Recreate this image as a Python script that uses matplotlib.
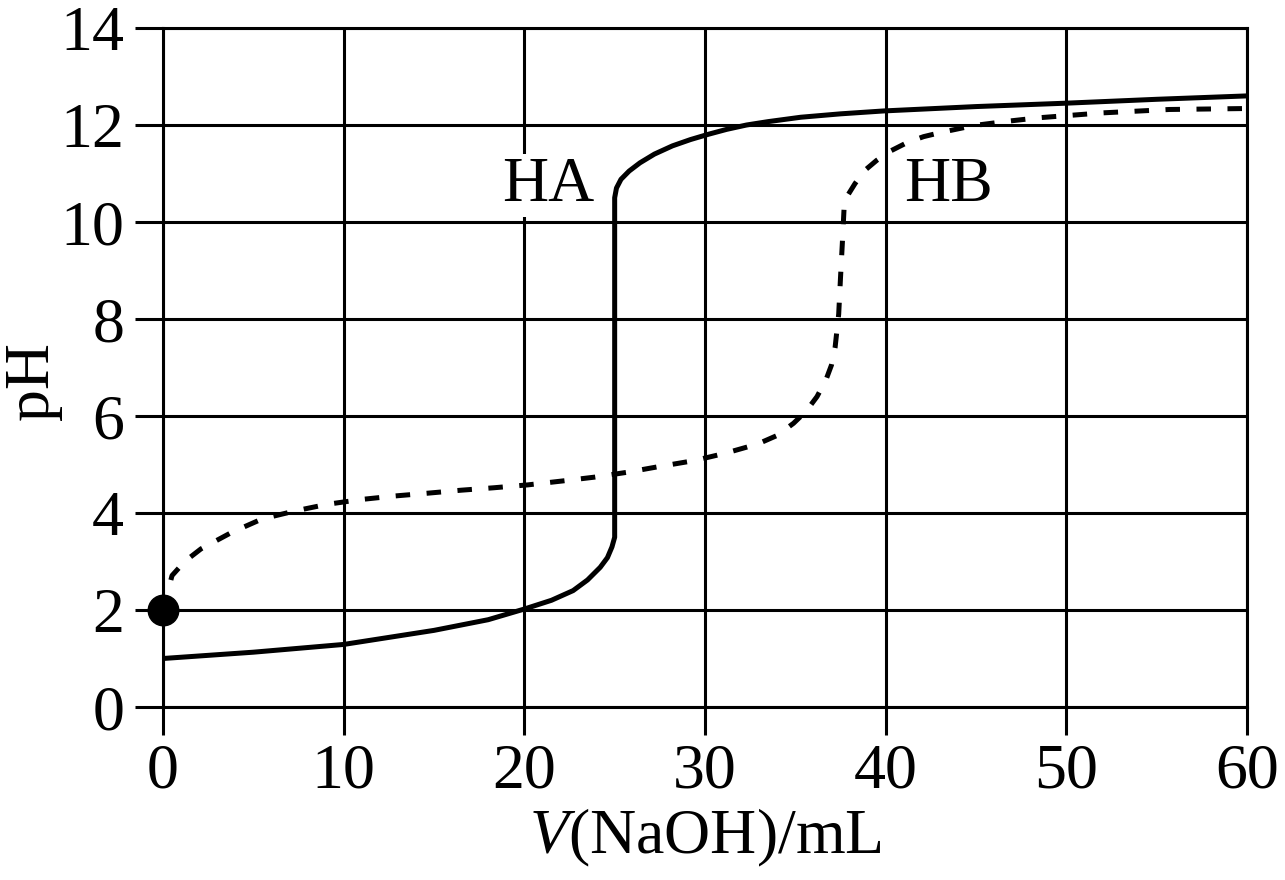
import matplotlib.pyplot as plt

plt.rcParams['font.family'] = ['Liberation Serif', 'DejaVu Serif']
plt.rcParams['mathtext.fontset'] = 'custom'
plt.rcParams['mathtext.rm'] = 'Liberation Serif'
plt.rcParams['mathtext.it'] = 'Liberation Serif:italic'

# HA titration curve (solid)
ha_v = [0, 5, 10, 15, 18, 20, 21.5, 22.7, 23.5, 24.2, 24.6, 24.85, 25.0, 25.0,
        25.1, 25.35, 25.8, 26.4, 27.2, 28.2, 29.2, 30.2, 31.2, 32.3, 33.5, 35.3, 37.5, 39.9,
        45, 50, 55, 60]
ha_ph = [1.0, 1.13, 1.29, 1.58, 1.8, 2.02, 2.2, 2.4, 2.62, 2.88, 3.08, 3.3, 3.5, 10.5,
         10.7, 10.88, 11.05, 11.22, 11.4, 11.57, 11.7, 11.81, 11.91, 12.0, 12.07, 12.16, 12.23, 12.29,
         12.38, 12.45, 12.53, 12.6]

# HB titration curve (dashed)
hb_v = [0, 0.5, 1.2, 2.1, 3.8, 5.5, 7.4, 9.1, 11.0, 12.8, 14.7, 16.5, 18.3, 20.2, 22.1, 23.9, 25.7,
        27.5, 29.4, 31.1, 32.9, 34.0, 34.9, 35.6, 36.2, 36.7, 37.0, 37.2, 37.4, 37.5, 37.6, 37.7,
        37.9, 38.3, 38.8, 39.5, 40.3, 41.2, 42.1, 43.1, 44.9, 46.8, 48.5, 52.0, 55.7, 60]
hb_ph = [2.0, 2.71, 3.0, 3.26, 3.6, 3.88, 4.05, 4.18, 4.28, 4.35, 4.41, 4.47, 4.52, 4.58, 4.66, 4.74, 4.84,
         4.96, 5.08, 5.23, 5.42, 5.6, 5.85, 6.1, 6.4, 6.75, 7.05, 7.41, 8.1, 8.85, 9.55, 10.3,
         10.55, 10.79, 11.05, 11.27, 11.47, 11.64, 11.76, 11.85, 11.99, 12.08, 12.15, 12.25, 12.32, 12.34]

x_ticks = [0, 10, 20, 30, 40, 50, 60]
y_ticks = [0, 2, 4, 6, 8, 10, 12, 14]

fig = plt.figure(figsize=(12.85, 8.8), dpi=100)
ax = fig.add_axes([163 / 1285, 1 - 707 / 880, (1247 - 163) / 1285, (707 - 28) / 880])

ax.set_xlim(0, 60)
ax.set_ylim(0, 14)
ax.set_xticks(x_ticks)
ax.set_yticks(y_ticks)
ax.grid(True, color='black', linewidth=2.2)
ax.set_axisbelow(True)
for s in ax.spines.values():
    s.set_linewidth(2.2)
ax.tick_params(direction='out', length=20, width=2.2, labelsize=46, pad=8)
ax.tick_params(axis='x', pad=6)

ax.plot(ha_v, ha_ph, color='black', linewidth=3.6, solid_joinstyle='round', zorder=3)
ax.plot(hb_v, hb_ph, color='black', linewidth=3.6, dashes=(2.9, 3.3), zorder=3)
ax.plot([hb_v[0]], [hb_ph[0]], 'o', color='black', markersize=22, clip_on=False, zorder=4)

ax.text(21.3, 10.75, 'HA', fontsize=46, ha='center', va='center',
        bbox=dict(facecolor='white', edgecolor='none', pad=2))
ax.text(43.5, 10.75, 'HB', fontsize=46, ha='center', va='center',
        bbox=dict(facecolor='white', edgecolor='none', pad=2))

ax.set_xlabel(r'$V$(NaOH)/mL', fontsize=46, labelpad=4)
ax.set_ylabel('pH', fontsize=46)
ax.yaxis.set_label_coords(-0.093, 0.48)

fig.savefig('out.png', dpi=100)
